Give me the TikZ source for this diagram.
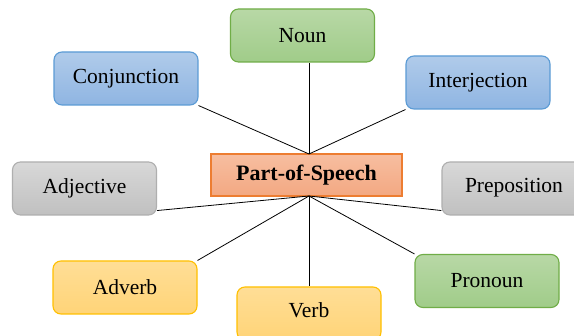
\documentclass[tikz,border=0pt]{standalone}
\usepackage{fontspec}
\setmainfont{Liberation Serif}
\begin{document}
\begin{tikzpicture}[x=1pt,y=-1pt,
  box/.style={rectangle, rounded corners=8pt, minimum width=144pt, minimum height=53pt, line width=1.1pt, font=\fontsize{21.5}{25}\selectfont, inner sep=0pt},
  greenbox/.style={box, draw={rgb,255:red,112;green,173;blue,71}, top color={rgb,255:red,184;green,216;blue,166}, bottom color={rgb,255:red,160;green,204;blue,137}},
  bluebox/.style={box, draw={rgb,255:red,91;green,155;blue,213}, top color={rgb,255:red,176;green,203;blue,234}, bottom color={rgb,255:red,143;green,181;blue,226}},
  graybox/.style={box, draw={rgb,255:red,175;green,175;blue,175}, top color={rgb,255:red,216;green,216;blue,216}, bottom color={rgb,255:red,192;green,192;blue,192}},
  yellowbox/.style={box, draw={rgb,255:red,255;green,192;blue,0}, top color={rgb,255:red,255;green,222;blue,150}, bottom color={rgb,255:red,255;green,212;blue,120}},
  centerbox/.style={rectangle, minimum width=191pt, minimum height=42pt, line width=1.1pt, inner sep=0pt, draw={rgb,255:red,237;green,125;blue,49}, top color={rgb,255:red,247;green,190;blue,160}, bottom color={rgb,255:red,243;green,168;blue,130}, font=\fontsize{22}{26}\selectfont\bfseries},
  plaintext/.style={font=\fontsize{21.5}{25}\selectfont, inner sep=0pt},
  link/.style={draw=black, line width=0.8pt}]
\clip (0,0) rectangle (574,336);
\fill[white] (0,0) rectangle (574,336);
\node[centerbox] (c) at (306.5,175) {Part-of-Speech};
\node[greenbox] (noun) at (302.5,35.5) {Noun};
\node[bluebox] (conj) at (126,78.5) {Conjunction};
\node[bluebox] (interj) at (478,82.5) {Interjection};
\node[graybox] (adj) at (84.5,188.5) {Adjective};
\node[graybox] (prep) at (514,188.5) {};
\node[plaintext] (preptext) at (514,187.5) {Preposition};
\node[yellowbox] (adv) at (125,287.5) {Adverb};
\node[yellowbox] (verb) at (309,313.5) {};
\node[plaintext] (verbtext) at (309,310) {Verb};
\node[greenbox] (pron) at (487,281) {Pronoun};
\coordinate (ct) at (309,154);
\coordinate (cb) at (309,196);
\draw[link] (ct) -- (conj.south east);
\draw[link] (ct) -- ([xshift=6.5pt]noun.south);
\draw[link] (ct) -- (interj.south west);
\draw[link] (cb) -- ([yshift=5pt]adj.south east);
\draw[link] (cb) -- ([yshift=5pt]prep.south west);
\draw[link] (cb) -- (adv.north east);
\draw[link] (cb) -- (verb.north);
\draw[link] (cb) -- (pron.north west);
\end{tikzpicture}
\end{document}
